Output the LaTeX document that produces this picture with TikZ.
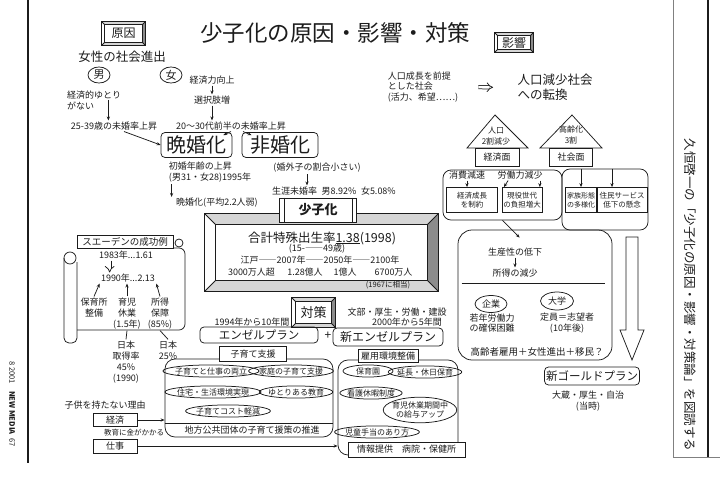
\documentclass[tikz,border=0pt]{standalone}
\usepackage{fontspec}
\setmainfont{Noto Sans CJK JP}
\usepackage{tikz}
\usetikzlibrary{calc,arrows.meta,positioning,shapes.geometric}
\definecolor{inkx}{HTML}{1C1C1C}
\definecolor{bevelx}{HTML}{8C8C8C}
\definecolor{bevellt}{HTML}{D6D6D6}
\tikzset{
  ar/.style={-{Stealth[length=4pt,width=3.2pt]},inkx},
  dbl/.style={double,double distance=2.6pt,-{Implies},inkx},
  box/.style={draw=inkx,rounded corners=4pt,inner sep=1.5pt,align=center},
  sqbox/.style={draw=inkx,inner sep=1.5pt,align=center},
  ovl/.style={draw=inkx,ellipse,inner xsep=-2pt,inner ysep=0.6pt,align=center,font=\fontsize{8}{9.5}\selectfont},
  tsm/.style={font=\fontsize{7.5}{9}\selectfont,align=center,inner sep=1pt},
  tnm/.style={font=\fontsize{9}{11}\selectfont,align=center,inner sep=1pt},
  tmd/.style={font=\fontsize{12.5}{15}\selectfont,align=center,inner sep=1pt},
  tlg/.style={font=\fontsize{20}{22}\selectfont,align=center,inner sep=1pt}
}
\newcommand{\bevelbox}[2]{%
  \coordinate (#1-a) at ($(#1.north west)+(#2,#2)$);
  \coordinate (#1-b) at ($(#1.north east)+(-#2,#2)$);
  \coordinate (#1-c) at ($(#1.south east)+(-#2,-#2)$);
  \coordinate (#1-d) at ($(#1.south west)+(#2,-#2)$);
  \fill[bevellt] (#1.north west) -- (#1.north east) -- (#1-b) -- (#1-a) -- cycle;
  \fill[bevelx] (#1.north east) -- (#1.south east) -- (#1-c) -- (#1-b) -- cycle;
  \fill[bevellt] (#1.south west) -- (#1.south east) -- (#1-c) -- (#1-d) -- cycle;
  \draw (#1.north west) rectangle (#1.south east);
  \draw (#1-a) rectangle (#1-c);
  \draw (#1.north west) -- (#1-a) (#1.north east) -- (#1-b) (#1.south east) -- (#1-c) (#1.south west) -- (#1-d);}

\begin{document}
\begin{tikzpicture}[x=1pt,y=-1pt,line width=0.75pt,inkx]
\useasboundingbox (0,0) rectangle (720,489);
% page frame
\draw[line width=1.8pt] (28,0) -- (28,463);
\draw[line width=0.4pt,gray] (673,0) -- (673,457) -- (720,457);
\draw[line width=1.6pt] (708,0) -- (708,457);
\node[rotate=-90,font=\fontsize{7.5}{9}\selectfont] (issue) at (12,404) {8 2001\quad\textbf{NEW MEDIA}\enspace 67};
\node[rotate=-90,font=\fontsize{12.5}{14}\selectfont] (sidetitle) at (690,295) {久恒啓一の「少子化の原因・影響・対策論」を図読する};
\node[font=\fontsize{22.5}{26}\selectfont] (title) at (335,33) {少子化の原因・影響・対策};

% causes
\node[font=\fontsize{12}{14}\selectfont,minimum width=43,minimum height=23] (cause) at (123.5,33.5) {原因};
\bevelbox{cause}{3}
\node[font=\fontsize{12.5}{14}\selectfont] (women) at (122,57) {女性の社会進出};
\node[draw,ellipse,inner sep=0.5pt,minimum width=22,minimum height=16,font=\fontsize{11}{12}\selectfont] (male) at (99,75) {男};
\node[draw,ellipse,inner sep=0.5pt,minimum width=22,minimum height=16,font=\fontsize{11}{12}\selectfont] (female) at (171,75) {女};
\node[tnm,align=left] (noroom) at (94,100) {経済的ゆとり\\がない};
\node[tnm] (late25) at (114,126) {25-39歳の未婚率上昇};
\draw[ar] ([xshift=-14pt]noroom.east) -- ([xshift=-14pt]noroom.east |- late25.north);
\node[tnm] (power) at (212,80) {経済力向上};
\node[tnm] (choice) at (212,100) {選択肢増};
\node[tnm] (late20) at (231,126) {20～30代前半の未婚率上昇};
\draw[ar] (power) -- (choice);
\draw[ar] (choice) -- (choice |- late20.north);
\node[box,tlg,minimum width=71,minimum height=25] (latemarr) at (196.5,145) {晩婚化};
\node[box,tlg,minimum width=76,minimum height=25] (nonmarr) at (280,145) {非婚化};
\draw[ar] ([xshift=10pt]late25.south) -- (latemarr.west);
\draw[ar] (late20.south) -- ([xshift=-9pt,yshift=-3pt]latemarr.north east);
\draw[ar] ([xshift=12pt]late20.south) -- ([xshift=10pt,yshift=-3pt]nonmarr.north west);
\node[tnm,align=left] (firstage) at (210,172.5) {初婚年齢の上昇\\(男31・女28)1995年};
\node[tnm] (latebirth) at (217,203) {晩婚化(平均2.2人弱)};
\draw[ar] ([xshift=4pt]firstage.south west) -- ([xshift=4pt]firstage.south west |- latebirth.north);
\node[tnm] (outwed) at (317,168) {(婚外子の割合小さい)};
\node[tnm] (lifelong) at (334,191) {生涯未婚率\enspace 男8.92\%\enspace 女5.08\%};
\draw[ar] ([xshift=-10pt]outwed.south) -- ([xshift=-10pt]outwed.south |- lifelong.north);

% birth rate frame
\node[minimum width=233,minimum height=77] (tfr) at (321.5,252.5) {};
\bevelbox{tfr}{11}
\node[tmd] (rate) at (322,238) {合計特殊出生率\underline{1.38}(1998)};
\node[tnm] (ages) at (317,249) {(15-――49歳)};
\node[tnm] (eras) at (320,260) {江戸――2007年――2050年――2100年};
\node[tnm] (pop1) at (251.5,272) {3000万人超};
\node[tnm] (pop2) at (305,272) {1.28億人};
\node[tnm] (pop3) at (345,272) {1億人};
\node[tnm] (pop4) at (393.5,272) {6700万人};
\node[tsm] (eq67) at (388,285) {(1967に相当)};
\node[draw,fill=white,font=\fontsize{13}{15}\selectfont\bfseries,minimum width=77,minimum height=24] (fewkids) at (318,210) {少子化};
\draw ([xshift=5pt]fewkids.north west) -- ([xshift=5pt]fewkids.south west);
\draw ([xshift=-5pt]fewkids.north east) -- ([xshift=-5pt]fewkids.south east);

% Sweden scroll
\draw (70,258) circle[radius=6pt];
\draw[rounded corners=5pt] (64,258) -- (64,343) -- (77,343) -- (77,262);
\draw[rounded corners=6pt] (77,248) -- (185,248) -- (185,330) -- (77,330);
\draw (179,243) circle[radius=4pt];
\node[sqbox,fill=white,font=\fontsize{9.5}{11}\selectfont,minimum width=96,minimum height=13,inner sep=0.5pt] (sweden) at (125,241.5) {スエーデンの成功例};
\node[tnm] (y83) at (126,255) {1983年...1.61};
\node[tnm] (y90) at (128,278) {1990年...2.13};
\draw[dbl] ([xshift=12pt]y83.south west) -- ([xshift=10pt]y90.north west);
\node[tnm] (nursery) at (94,307.5) {保育所\\整備};
\node[tnm] (leave) at (127,313.5) {育児\\休業\\(1.5年)};
\node[tnm] (income) at (160,313.5) {所得\\保障\\(85\%)};
\draw[ar] (nursery.north) -- (y90.south west);
\draw[ar] (leave.north) -- (leave.north |- y90.south);
\draw[ar] (income.north) -- (y90.south east);
\node[tnm] (jp1) at (126,362) {日本\\取得率\\45\%\\(1990)};
\node[tnm] (jp2) at (168,350) {日本\\25\%};
\draw (leave.south) -- (jp1.north);
\draw (income.south) -- (jp2.north);

% measures
\node[font=\fontsize{13}{15}\selectfont,minimum width=43,minimum height=29] (measure) at (313.5,312.5) {対策};
\bevelbox{measure}{4}
\node[tnm] (ministries) at (397,312) {文部・厚生・労働・建設};
\node[tnm] (from2000) at (407,322.5) {2000年から5年間};
\node[tnm] (from1994) at (252,322) {1994年から10年間};
\node[box,font=\fontsize{11.5}{13}\selectfont,minimum width=118,minimum height=16] (angel) at (259,335) {エンゼルプラン};
\node[font=\fontsize{12}{13}\selectfont] (plus) at (328,336) {+};
\node[box,font=\fontsize{12}{13}\selectfont,minimum width=110,minimum height=18] (newangel) at (388,337) {新エンゼルプラン};
\node[draw,rounded corners=10pt,minimum width=168,minimum height=78] (lcont) at (249,398) {};
\node[draw,rounded corners=10pt,minimum width=120,minimum height=95] (rcont) at (398,407.5) {};
\node[sqbox,fill=white,tnm,minimum width=67,minimum height=15] (support) at (253,354) {子育て支援};
\node[sqbox,fill=white,tnm,minimum width=60,minimum height=13] (employ) at (388,356) {雇用環境整備};
\node[ovl] (balance) at (211,371) {子育てと仕事の両立};
\node[ovl] (family) at (291,371) {家庭の子育て支援};
\node[ovl] (housing) at (213,392) {住宅・生活環境実現};
\node[ovl] (relaxed) at (296,392) {ゆとりある教育};
\node[ovl] (costcut) at (228,411) {子育てコスト軽減};
\draw (lcont.west |- 0,423) -- (lcont.east |- 0,423);
\node[tnm] (local) at (252,430.5) {地方公共団体の子育て援策の推進};
\node[ovl,minimum width=50] (nurs2) at (368,371) {保育園};
\node[ovl] (extcare) at (425,372) {延長・休日保育};
\node[ovl] (nurseleave) at (371,393) {看護休暇制度};
\node[ovl] (paylv) at (420,410) {育児休業期間中\\の給与アップ};
\node[ovl] (allow) at (377,432) {児童手当のあり方};
\node[sqbox,fill=white,tnm,minimum width=117,minimum height=15] (info) at (406.5,449.5) {情報提供\quad 病院・保健所};

% reasons for no children
\node[tnm] (noreason) at (105,405) {子供を持たない理由};
\node[sqbox,tnm,minimum width=44,minimum height=13] (econ) at (115,420) {経済};
\node[tsm] (educost) at (134,433) {教育に金がかかる};
\node[sqbox,tnm,minimum width=44,minimum height=14] (work) at (115,446) {仕事};
\draw[ar] (econ.east) -- (econ.east -| lcont.west);
\draw[ar] (work.east) -- (work.east -| rcont.west);

% effects
\node[font=\fontsize{12}{14}\selectfont,minimum width=38,minimum height=19] (effect) at (514,42.5) {影響};
\bevelbox{effect}{3}
\node[tnm,align=left,font=\fontsize{9}{10.5}\selectfont] (premise) at (423,87) {人口成長を前提\\とした社会\\(活力、希望……)};
\node[tmd,align=left] (shift) at (555,87.5) {人口減少社会\\への転換};
\draw[dbl,shorten <=19pt,shorten >=23pt] (premise.east) -- (shift.west);
\draw (467,148) -- (495,115) -- (528,148) -- cycle;
\draw (540,148) -- (572,115) -- (602,148) -- cycle;
\node[font=\fontsize{8}{11.5}\selectfont,align=center,inner sep=0.5pt] (pop) at (496,136) {人口\\2割減少};
\node[font=\fontsize{8}{11.5}\selectfont,align=center,inner sep=0.5pt] (aging) at (571,135) {高齢化\\3割};
\node[sqbox,tnm,minimum width=44,minimum height=18] (econface) at (497,157) {経済面};
\node[sqbox,tnm,minimum width=43,minimum height=18] (socface) at (571,157) {社会面};
\node[box,rounded corners=8pt,minimum width=119,minimum height=50] (econbox) at (502.5,195) {};
\node[box,rounded corners=8pt,minimum width=86,minimum height=61] (socbox) at (605,199.5) {};
\node[tnm] (consume) at (467,175) {消費減速};
\node[tnm] (labor) at (520,175) {労働力減少};
\node[sqbox,tsm,minimum width=51,minimum height=25] (growth) at (472,200) {経済成長\\を制約};
\node[sqbox,tsm,minimum width=40,minimum height=25] (burden) at (522,200) {現役世代\\の負担増大};
\draw[ar] (consume.south) -- (consume.south |- growth.north);
\draw[ar] ([xshift=-4pt]labor.south east) -- ([xshift=-4pt]labor.south east |- burden.north);
\draw[ar] ([xshift=12pt]labor.south west) -- ([xshift=6pt]growth.north east);
\node[sqbox,font=\fontsize{7}{9}\selectfont,minimum width=30,minimum height=25] (family2) at (581,200) {家族形態\\の多様化};
\node[sqbox,tsm,minimum width=50,minimum height=25] (service) at (622,200) {住民サービス\\低下の懸念};
\draw[ar] (family2.north |- socbox.north) -- (family2.north);
\draw[ar] ([xshift=-10pt]service.north |- socbox.north) -- ([xshift=-10pt]service.north);
\node[box,rounded corners=14pt,minimum width=154,minimum height=130] (prodbox) at (535,295) {};
\draw[ar] (econbox.south) -- ($(prodbox.north west)+(62,8)$);
\node[tnm] (prod) at (515,252) {生産性の低下};
\node[tnm] (incdown) at (515,273) {所得の減少};
\draw[ar] (prod.south) -- (prod.south |- incdown.north);
\draw (prodbox.west |- 0,283) ++(4,0) -- ([xshift=-7pt]prodbox.east |- 0,283);
\node[draw,ellipse,inner sep=0.5pt,minimum width=32,minimum height=17,tnm] (firm) at (491,304) {企業};
\node[draw,ellipse,inner sep=0.5pt,minimum width=33,minimum height=18,tnm] (univ) at (557,301) {大学};
\node[tnm,font=\fontsize{9}{10.5}\selectfont] (young) at (492,323) {若年労働力\\の確保困難};
\node[tnm,font=\fontsize{9}{10.5}\selectfont] (quota) at (567,323) {定員＝志望者\\(10年後)};
\node[font=\fontsize{9.5}{11}\selectfont,inner sep=1pt] (remedy) at (537,352) {高齢者雇用＋女性進出＋移民？};
\draw[fill=white] (626,237) -- (638,237) -- (638,330) -- (644,330) -- (632,360) -- (620,330) -- (626,330) -- cycle;
\node[box,font=\fontsize{11.5}{13}\selectfont,minimum width=95,minimum height=18] (gold) at (592,376) {新ゴールドプラン};
\node[tnm] (ministry) at (588,401.5) {大蔵・厚生・自治\\(当時)};
\end{tikzpicture}
\end{document}
